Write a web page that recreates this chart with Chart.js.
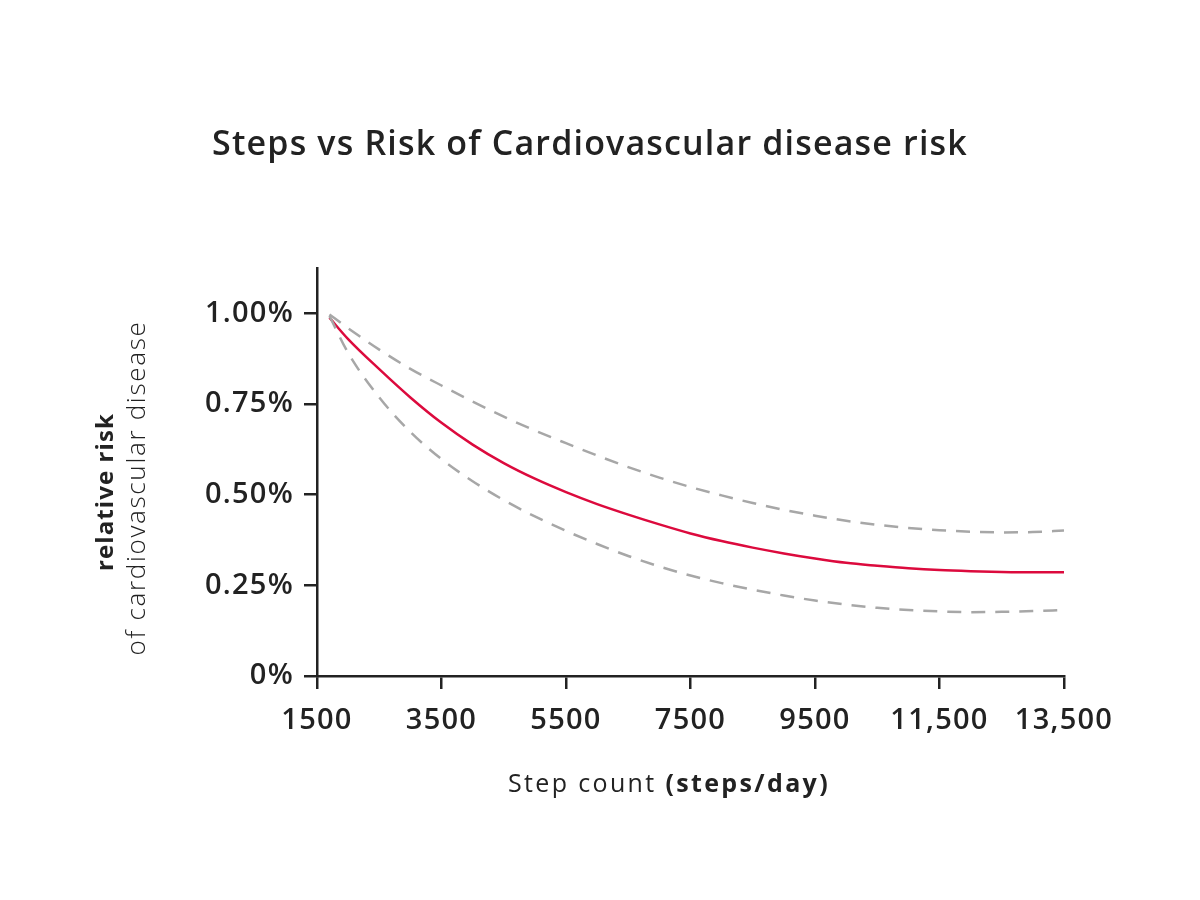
<!DOCTYPE html>
<html>
<head>
<meta charset="utf-8">
<script src="https://cdn.jsdelivr.net/npm/chart.js@4"></script>
<style>
  html, body { margin: 0; padding: 0; background: #ffffff; }
  #wrap { width: 1200px; height: 900px; }
</style>
</head>
<body>
<div id="wrap"><canvas id="c" width="1200" height="900"></canvas></div>
<script>
const titleText = "Steps vs Risk of Cardiovascular disease risk";
const xTitleNormal = "Step count ";
const xTitleBold = "(steps/day)";
const yTitleBold = "relative risk";
const yTitleNormal = "of cardiovascular disease";

const steps = [1700, 2000, 2500, 3000, 3500, 4000, 4500, 5000, 5500, 6000, 6500, 7000, 7500,
               8000, 8500, 9000, 9500, 10000, 10500, 11000, 11500, 12000, 12500, 13000, 13500];
const riskMain  = [0.988, 0.929, 0.846, 0.768, 0.698, 0.638, 0.587, 0.544, 0.507, 0.474, 0.445, 0.418, 0.393,
                   0.372, 0.354, 0.338, 0.324, 0.312, 0.304, 0.297, 0.292, 0.289, 0.287, 0.286, 0.286];
const riskUpper = [0.997, 0.959, 0.900, 0.847, 0.801, 0.757, 0.715, 0.677, 0.642, 0.608, 0.576, 0.547, 0.521,
                   0.498, 0.477, 0.458, 0.442, 0.428, 0.417, 0.408, 0.402, 0.398, 0.396, 0.397, 0.401];
const riskLower = [0.993, 0.891, 0.768, 0.673, 0.598, 0.537, 0.485, 0.440, 0.400, 0.364, 0.331, 0.302, 0.277,
                   0.256, 0.238, 0.222, 0.208, 0.197, 0.188, 0.182, 0.178, 0.176, 0.177, 0.179, 0.182];
const xTickValues = [1500, 3500, 5500, 7500, 9500, 11500, 13500];
const xTickLabels = ["1500", "3500", "5500", "7500", "9500", "11,500", "13,500"];
const yTickValues = [0, 0.25, 0.5, 0.75, 1.0];
const yTickLabels = ["0%", "0.25%", "0.50%", "0.75%", "1.00%"];

const FONT = "'Open Sans', Lato, sans-serif";
const INK = "#222222";

// Letter spacing helper so the text spans the same width as the reference typeface.
const mctx = document.createElement('canvas').getContext('2d');
function spacingFor(text, font, target) {
  mctx.font = font;
  if ('letterSpacing' in mctx) mctx.letterSpacing = '0px';
  const w = mctx.measureText(text).width;
  return Math.max(-1.5, (target - w) / text.length);
}
const TICK_SIZE = 29;
const TICK_WEIGHT = '600';
const TICK_FONT = TICK_WEIGHT + " " + TICK_SIZE + "px " + FONT;
const tickLS = spacingFor("1.00%", TICK_FONT, 89);

function pts(vals) { return steps.map((s, i) => ({ x: s, y: vals[i] })); }

function setLS(ctx, v) { if ('letterSpacing' in ctx) ctx.letterSpacing = v.toFixed(2) + 'px'; }

const textPlugin = {
  id: 'customText',
  beforeDraw(chart) { setLS(chart.ctx, tickLS); },
  afterDraw(chart) {
    const ctx = chart.ctx;
    ctx.save();
    ctx.fillStyle = INK;
    ctx.textBaseline = "middle";
    // Title
    const tf = "600 34px " + FONT;
    ctx.font = tf;
    setLS(ctx, spacingFor(titleText, tf, 756));
    ctx.textAlign = "center";
    ctx.fillText(titleText, 590, 145);
    // X axis title (mixed weights)
    const nf = "400 25px " + FONT, bf = "700 25px " + FONT;
    const xls = spacingFor(xTitleNormal + xTitleBold, "500 25px " + FONT, 311);
    setLS(ctx, xls);
    ctx.textAlign = "left";
    ctx.font = nf;
    const w1 = ctx.measureText(xTitleNormal).width;
    ctx.font = bf;
    const w2 = ctx.measureText(xTitleBold).width;
    const xStart = 669 - (w1 + w2) / 2;
    ctx.font = nf;
    ctx.fillText(xTitleNormal, xStart, 785);
    ctx.font = bf;
    ctx.fillText(xTitleBold, xStart + w1, 785);
    // Y axis title (two rotated lines)
    ctx.textAlign = "center";
    ctx.save();
    ctx.translate(106, 492);
    ctx.rotate(-Math.PI / 2);
    const ybf = "700 24px " + FONT;
    ctx.font = ybf;
    setLS(ctx, spacingFor(yTitleBold, ybf, 158));
    ctx.fillText(yTitleBold, 0, 0);
    ctx.restore();
    ctx.save();
    ctx.translate(138, 488);
    ctx.rotate(-Math.PI / 2);
    const ynf = "300 26px " + FONT;
    ctx.font = ynf;
    setLS(ctx, spacingFor(yTitleNormal, ynf, 335));
    ctx.fillText(yTitleNormal, 0, 0);
    ctx.restore();
    ctx.restore();
    setLS(ctx, 0);
  }
};

new Chart(document.getElementById('c'), {
  type: 'line',
  data: {
    datasets: [
      { label: 'Upper', data: pts(riskUpper), borderColor: '#a7a7a7', borderWidth: 2.5,
        borderDash: [14, 10], pointRadius: 0, cubicInterpolationMode: 'monotone', fill: false },
      { label: 'Lower', data: pts(riskLower), borderColor: '#a7a7a7', borderWidth: 2.5,
        borderDash: [14, 10], pointRadius: 0, cubicInterpolationMode: 'monotone', fill: false },
      { label: 'Relative risk', data: pts(riskMain), borderColor: '#dc0a3d', borderWidth: 2.5,
        pointRadius: 0, cubicInterpolationMode: 'monotone', fill: false }
    ]
  },
  options: {
    responsive: false,
    animation: false,
    devicePixelRatio: 1,
    layout: { padding: { left: 0, right: 136, top: 268, bottom: 0 } },
    plugins: { legend: { display: false }, title: { display: false }, tooltip: { enabled: false } },
    scales: {
      x: {
        type: 'linear', min: 1500, max: 13500,
        afterFit(scale) { scale.height = 224; },
        afterBuildTicks(scale) { scale.ticks = xTickValues.map(v => ({ value: v })); },
        border: { display: true, color: INK, width: 2.5 },
        grid: { display: true, drawOnChartArea: false, drawTicks: true, tickLength: 13,
                color: INK, tickColor: INK, lineWidth: 2.5, tickWidth: 2.5 },
        ticks: {
          color: INK, font: { family: FONT, size: TICK_SIZE, weight: TICK_WEIGHT }, padding: 14,
          maxRotation: 0, autoSkip: false,
          callback(v) { const i = xTickValues.indexOf(v); return i >= 0 ? xTickLabels[i] : ''; }
        }
      },
      y: {
        type: 'linear', min: 0, max: 1.125,
        afterFit(scale) { scale.width = 317; },
        afterBuildTicks(scale) { scale.ticks = yTickValues.map(v => ({ value: v })); },
        border: { display: true, color: INK, width: 2.5 },
        grid: { display: true, drawOnChartArea: false, drawTicks: true, tickLength: 13,
                color: INK, tickColor: INK, lineWidth: 2.5, tickWidth: 2.5 },
        ticks: {
          color: INK, font: { family: FONT, size: TICK_SIZE, weight: TICK_WEIGHT }, padding: 10,
          callback(v) { const i = yTickValues.indexOf(v); return i >= 0 ? yTickLabels[i] : ''; }
        }
      }
    }
  },
  plugins: [textPlugin]
});
</script>
</body>
</html>
